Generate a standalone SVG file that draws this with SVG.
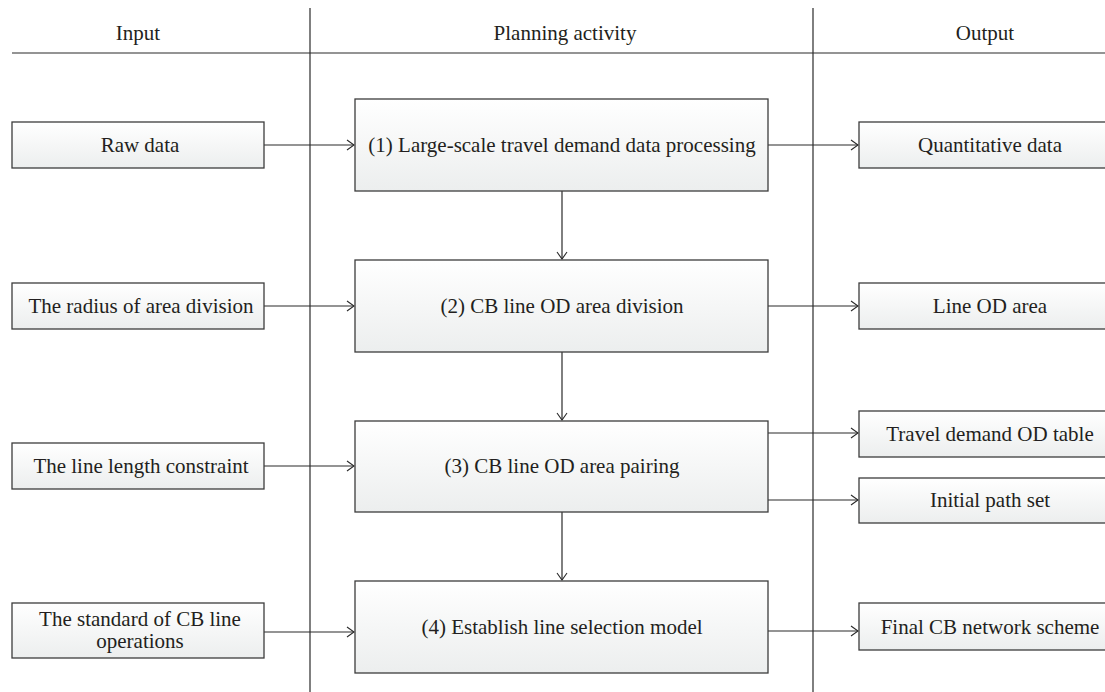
<svg xmlns="http://www.w3.org/2000/svg" width="1105" height="692" viewBox="0 0 1105 692">
<defs>
<linearGradient id="g" x1="0" y1="0" x2="0" y2="1">
<stop offset="0" stop-color="#ffffff"/>
<stop offset="1" stop-color="#eceeee"/>
</linearGradient>
<marker id="ah" markerWidth="10" markerHeight="12" refX="8" refY="6" orient="auto" markerUnits="userSpaceOnUse">
<polyline points="1,1 8,6 1,11" fill="none" stroke="#2a2a2a" stroke-width="1.1"/>
</marker>
</defs>
<style>
.t{font-family:"Liberation Serif","Times New Roman",serif;font-size:21px;fill:#231f20;text-anchor:middle}
.b{fill:url(#g);stroke:#3c3c3c;stroke-width:1.3}
.r{stroke:#2a2a2a;stroke-width:1.2;fill:none}
.c{stroke:#2a2a2a;stroke-width:1.2;fill:none;marker-end:url(#ah)}
</style>
<rect width="1105" height="692" fill="#ffffff"/>
<g id="frame">
<line class="r" x1="12" y1="53" x2="1105" y2="53"/>
<line class="r" x1="310" y1="8" x2="310" y2="692"/>
<line class="r" x1="813" y1="8" x2="813" y2="692"/>
<text class="t" x="138" y="40">Input</text>
<text class="t" x="565" y="40">Planning activity</text>
<text class="t" x="985" y="40">Output</text>
</g>
<g id="connectors">
<line class="c" x1="264" y1="145" x2="354" y2="145"/>
<line class="c" x1="264" y1="306" x2="354" y2="306"/>
<line class="c" x1="264" y1="466" x2="354" y2="466"/>
<line class="c" x1="264" y1="632" x2="354" y2="632"/>
<line class="c" x1="768" y1="145" x2="858" y2="145"/>
<line class="c" x1="768" y1="306" x2="858" y2="306"/>
<line class="c" x1="768" y1="433" x2="858" y2="433"/>
<line class="c" x1="768" y1="500" x2="858" y2="500"/>
<line class="c" x1="768" y1="631" x2="858" y2="631"/>
<line class="c" x1="562" y1="191" x2="562" y2="259"/>
<line class="c" x1="562" y1="352" x2="562" y2="420"/>
<line class="c" x1="562" y1="512" x2="562" y2="580"/>
</g>
<g id="in1"><rect class="b" x="12" y="122" width="252" height="46"/><text class="t" x="140" y="152">Raw data</text></g>
<g id="in2"><rect class="b" x="12" y="283" width="252" height="46"/><text class="t" x="141" y="313">The radius of area division</text></g>
<g id="in3"><rect class="b" x="12" y="443" width="252" height="46"/><text class="t" x="141" y="473">The line length constraint</text></g>
<g id="in4"><rect class="b" x="12" y="603" width="252" height="55"/><text class="t" x="140" y="626">The standard of CB line</text><text class="t" x="140" y="648">operations</text></g>
<g id="p1"><rect class="b" x="355" y="99" width="413" height="92"/><text class="t" x="562" y="152">(1) Large-scale travel demand data processing</text></g>
<g id="p2"><rect class="b" x="355" y="260" width="413" height="92"/><text class="t" x="562" y="313">(2) CB line OD area division</text></g>
<g id="p3"><rect class="b" x="355" y="421" width="413" height="91"/><text class="t" x="562" y="473">(3) CB line OD area pairing</text></g>
<g id="p4"><rect class="b" x="355" y="581" width="413" height="92"/><text class="t" x="562" y="634">(4) Establish line selection model</text></g>
<g id="o1"><rect class="b" x="859" y="122" width="262" height="46"/><text class="t" x="990" y="152">Quantitative data</text></g>
<g id="o2"><rect class="b" x="859" y="283" width="262" height="46"/><text class="t" x="990" y="313">Line OD area</text></g>
<g id="o3"><rect class="b" x="859" y="411" width="262" height="46"/><text class="t" x="990" y="441">Travel demand OD table</text></g>
<g id="o4"><rect class="b" x="859" y="478" width="262" height="45"/><text class="t" x="990" y="507">Initial path set</text></g>
<g id="o5"><rect class="b" x="859" y="603" width="262" height="47"/><text class="t" x="990" y="634">Final CB network scheme</text></g>
</svg>
